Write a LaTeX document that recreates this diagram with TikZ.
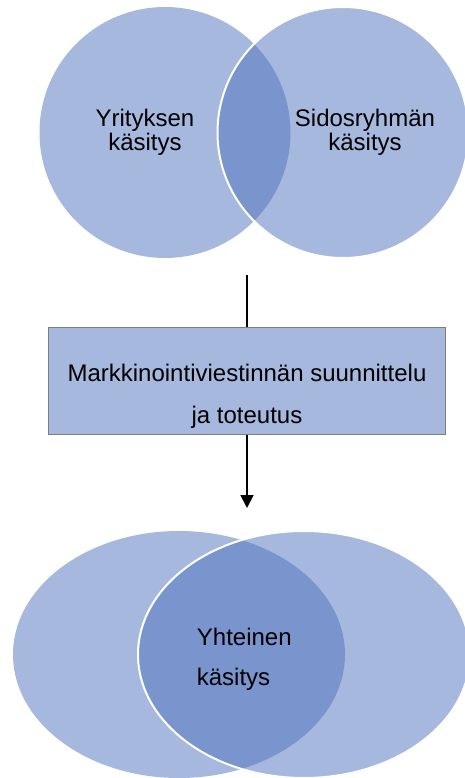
\documentclass[tikz,border=0pt]{standalone}
\usepackage{fontspec}
\setmainfont{Liberation Sans}
\usetikzlibrary{arrows.meta,shapes.geometric}
\definecolor{venn}{RGB}{75,111,188}
\definecolor{boxfill}{RGB}{166,184,222}
\definecolor{boxline}{RGB}{125,125,125}
\begin{document}
\begin{tikzpicture}[x=1pt,y=-1pt,
  vennback/.style={fill=venn, fill opacity=0.49, draw=none, inner sep=0pt, outer sep=0pt},
  vennfront/.style={fill=venn, fill opacity=0.49, draw=white, draw opacity=1, line width=2pt, inner sep=0pt, outer sep=0pt},
  lbl/.style={inner sep=0pt, text=black, anchor=base},
  stagebox/.style={draw=boxline, fill=boxfill, line width=1pt, inner sep=0pt, minimum width=397pt, minimum height=107pt},
  conn/.style={draw=black, line width=1.8pt}]
\useasboundingbox (0,0) rectangle (464,778);
% top Venn
\node[circle, vennback, minimum size=251pt] (c1) at (165,132.5) {};
\node[circle, vennfront, minimum size=251pt] (c2) at (343,132.5) {};
\node[lbl, align=center, font=\fontsize{24}{23.3}\selectfont] (t1) at (145,150) {Yrityksen\\käsitys};
\node[lbl, align=center, font=\fontsize{24}{23.3}\selectfont] (t2) at (365,150) {Sidosryhmän\\käsitys};
% box
\node[stagebox] (box) at (247,380.5) {};
\node[lbl, align=center, font=\fontsize{24}{41.6}\selectfont] (boxtext) at (247,423.3) {Markkinointiviestinnän suunnittelu\\ja toteutus};
% connectors
\coordinate (topend) at (247,275);
\coordinate (tip) at (247,508);
\draw[conn] (topend) -- (box.north);
\draw[conn, -{Triangle[width=13pt,length=13pt]}] (box.south) -- (tip);
% bottom Venn
\node[ellipse, vennback, minimum width=332pt, minimum height=247pt] (e1) at (179,654.5) {};
\node[ellipse, vennfront, minimum width=332pt, minimum height=247pt] (e2) at (304,654.5) {};
\node[lbl, align=left, font=\fontsize{24}{40.7}\selectfont, anchor=base west] (t3) at (196.7,685.7) {Yhteinen\\käsitys};
\end{tikzpicture}
\end{document}
